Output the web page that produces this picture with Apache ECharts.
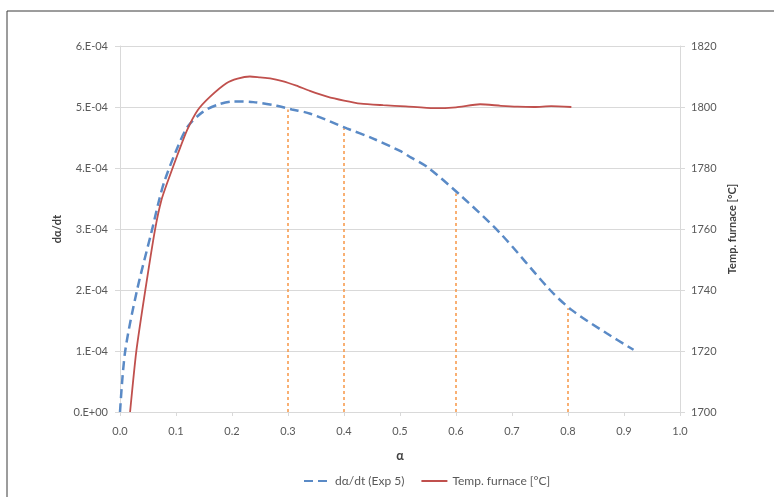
<!DOCTYPE html>
<html>
<head>
<meta charset="utf-8">
<script src="https://cdn.jsdelivr.net/npm/echarts@6/dist/echarts.min.js"></script>
<style>html,body{margin:0;padding:0;background:#fff}#c{width:774px;height:497px}</style>
</head>
<body>
<div id="c"></div>
<script>
// dα/dt (Exp 5): alpha vs rate (in units of 1e-4)
const blueAlpha = [0, 0.009, 0.03, 0.057, 0.07, 0.08, 0.101, 0.121, 0.148, 0.175, 0.202, 0.238, 0.28, 0.307, 0.34, 0.405, 0.45, 0.5, 0.52, 0.548, 0.607, 0.679, 0.768, 0.807, 0.869, 0.917];
const blueRate  = [0, 0.98, 1.98, 2.98, 3.48, 3.80, 4.30, 4.68, 4.92, 5.04, 5.09, 5.08, 5.02, 4.96, 4.89, 4.65, 4.49, 4.28, 4.17, 4.02, 3.56, 2.93, 2.00, 1.67, 1.29, 1.02];
// Temp. furnace [°C]
const redAlpha = [0.018, 0.029, 0.045, 0.0625, 0.074, 0.086, 0.104, 0.12, 0.139, 0.161, 0.19, 0.21, 0.232, 0.25, 0.268, 0.29, 0.315, 0.339, 0.37, 0.40, 0.43, 0.47, 0.51, 0.56, 0.60, 0.643, 0.68, 0.71, 0.74, 0.77, 0.806];
const redTemp  = [1700, 1719.7, 1739.7, 1759.7, 1769.5, 1776, 1785, 1792.5, 1799, 1803.4, 1807.8, 1809.3, 1810, 1809.7, 1809.4, 1808.5, 1807, 1805.3, 1803.4, 1802.1, 1801.1, 1800.6, 1800.2, 1799.6, 1799.9, 1800.9, 1800.4, 1800.1, 1800, 1800.3, 1800];
// vertical reference lines
const markAlpha = [0.3, 0.4, 0.6, 0.8];
const markRate  = [4.96, 4.65, 3.58, 1.70];
// ticks
const leftTicks = [0, 1, 2, 3, 4, 5, 6];
const rightTicks = [1700, 1720, 1740, 1760, 1780, 1800, 1820];

const font = 'Lato, "Open Sans", sans-serif';
const labCol = '#595959';
const axisCol = '#d9d9d9';

const series = [
  {
    name: 'dα/dt (Exp 5)', type: 'line', yAxisIndex: 0, showSymbol: false, symbol: 'none', smooth: 0.3,
    data: blueAlpha.map((a, i) => [a, blueRate[i] * 1e-4]),
    lineStyle: { color: '#5A8AC6', width: 2.5, type: [9, 5] }, itemStyle: { color: '#5A8AC6' }, z: 3
  },
  {
    name: 'Temp. furnace [°C]', type: 'line', yAxisIndex: 1, showSymbol: false, symbol: 'none', smooth: 0.2,
    data: redAlpha.map((a, i) => [a, redTemp[i]]),
    lineStyle: { color: '#C0504D', width: 1.8 }, itemStyle: { color: '#C0504D' }, z: 4
  }
];
markAlpha.forEach((a, i) => {
  series.push({
    name: 'mark' + i, type: 'line', yAxisIndex: 0, showSymbol: false, symbol: 'none',
    data: [[a, 0], [a, markRate[i] * 1e-4]],
    lineStyle: { color: '#F79646', width: 1.5, type: [3, 3] }, z: 2, silent: true
  });
});

const chart = echarts.init(document.getElementById('c'), null, { renderer: 'canvas' });
chart.setOption({
  animation: false,
  backgroundColor: '#fff',
  graphic: [{ type: 'rect', shape: { x: 7, y: 11, width: 900, height: 700 }, style: { fill: 'none', stroke: '#3a3a3a', lineWidth: 1 }, z: 100 }],
  grid: { left: 120, right: 94, top: 46, bottom: 85 },
  legend: {
    data: ['dα/dt (Exp 5)', 'Temp. furnace [°C]'], top: 470, left: 298, itemGap: 16, itemWidth: 26, itemHeight: 10,
    itemStyle: { opacity: 0 },
    textStyle: { color: labCol, fontSize: 12, fontFamily: font }
  },
  xAxis: {
    type: 'value', min: 0, max: 1, interval: 0.1,
    name: 'α', nameLocation: 'middle', nameGap: 37,
    nameTextStyle: { color: '#404040', fontSize: 12.5, fontWeight: 'bold', fontFamily: font },
    axisLine: { show: true, lineStyle: { color: axisCol } },
    axisTick: { show: true, length: 4, lineStyle: { color: axisCol } },
    axisLabel: { color: labCol, fontSize: 11, fontFamily: font, margin: 14, formatter: v => v.toFixed(1) },
    splitLine: { show: false }
  },
  yAxis: [
    {
      type: 'value', min: 0, max: 6e-4, interval: 1e-4, position: 'left',
      name: 'dα/dt', nameLocation: 'middle', nameGap: 22, nameRotate: 90,
      nameTextStyle: { color: '#404040', fontSize: 11, fontWeight: 'bold', fontFamily: font },
      axisLine: { show: true, lineStyle: { color: axisCol } },
      axisTick: { show: true, length: 5, lineStyle: { color: axisCol } },
      axisLabel: { color: labCol, fontSize: 11, fontFamily: font, margin: 12,
        formatter: v => { const k = Math.round(v * 1e4); return k === 0 ? '0.E+00' : k + '.E-04'; } },
      splitLine: { show: true, lineStyle: { color: axisCol, width: 1 } }
    },
    {
      type: 'value', min: 1700, max: 1820, interval: 20, position: 'right',
      name: 'Temp. furnace [°C]', nameLocation: 'middle', nameGap: 46, nameRotate: 90,
      nameTextStyle: { color: '#404040', fontSize: 11, fontWeight: 'bold', fontFamily: font },
      axisLine: { show: true, lineStyle: { color: axisCol } },
      axisTick: { show: true, length: 5, lineStyle: { color: axisCol } },
      axisLabel: { color: labCol, fontSize: 11, fontFamily: font, margin: 11, formatter: v => String(v) },
      splitLine: { show: false }
    }
  ],
  series: series
});
</script>
</body>
</html>
